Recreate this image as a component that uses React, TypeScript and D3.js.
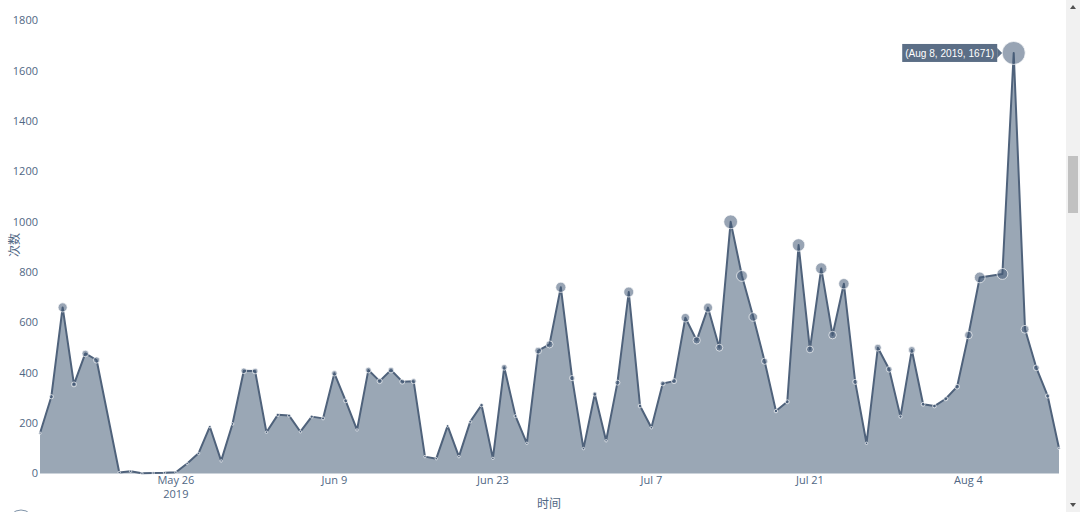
import React from "react";
import * as d3 from "d3";

const dates: string[] = [
  "2019-05-14","2019-05-15","2019-05-16","2019-05-17","2019-05-18","2019-05-19",
  "2019-05-21","2019-05-22","2019-05-23","2019-05-24","2019-05-25","2019-05-26",
  "2019-05-27","2019-05-28","2019-05-29","2019-05-30","2019-05-31",
  "2019-06-01","2019-06-02","2019-06-03","2019-06-04","2019-06-05","2019-06-06","2019-06-07",
  "2019-06-08","2019-06-09","2019-06-10","2019-06-11","2019-06-12","2019-06-13","2019-06-14",
  "2019-06-15","2019-06-16","2019-06-17","2019-06-18","2019-06-19","2019-06-20","2019-06-21",
  "2019-06-22","2019-06-23","2019-06-24","2019-06-25","2019-06-26","2019-06-27","2019-06-28",
  "2019-06-29","2019-06-30",
  "2019-07-01","2019-07-02","2019-07-03","2019-07-04","2019-07-05","2019-07-06","2019-07-07",
  "2019-07-08","2019-07-09","2019-07-10","2019-07-11","2019-07-12","2019-07-13","2019-07-14",
  "2019-07-15","2019-07-16","2019-07-17","2019-07-18","2019-07-19","2019-07-20","2019-07-21",
  "2019-07-22","2019-07-23","2019-07-24","2019-07-25","2019-07-26","2019-07-27","2019-07-28",
  "2019-07-29","2019-07-30","2019-07-31",
  "2019-08-01","2019-08-02","2019-08-03","2019-08-04","2019-08-05","2019-08-07","2019-08-08",
  "2019-08-09","2019-08-10","2019-08-11","2019-08-12",
];

const counts: number[] = [
  160, 305, 660, 354, 477, 451,
  4, 9, 1, 2, 3, 5,
  40, 80, 186, 50, 197,
  408, 407, 164, 233, 230, 166, 226,
  219, 398, 289, 173, 411, 367, 411,
  365, 367, 67, 59, 189, 67, 206,
  272, 60, 422, 228, 120, 488, 513,
  740, 379,
  99, 316, 130, 361, 721, 268, 182,
  358, 367, 619, 529, 659, 500, 1000,
  785, 622, 446, 248, 285, 908, 493,
  815, 550, 754, 364, 120, 500, 414,
  226, 491, 275,
  268, 297, 345, 550, 779, 793, 1671,
  573, 420, 308, 100,
];

const yTicks: number[] = [0, 200, 400, 600, 800, 1000, 1200, 1400, 1600, 1800];
const xTickDates: string[] = ["2019-05-26", "2019-06-09", "2019-06-23", "2019-07-07", "2019-07-21", "2019-08-04"];
const xTickLabels: string[] = ["May 26", "Jun 9", "Jun 23", "Jul 7", "Jul 21", "Aug 4"];
const highlightDate = "2019-08-08";
const tooltipText = "(Aug 8, 2019, 1671)";

const W = 1080;
const H = 512;
const FONT = "'Open Sans', 'Noto Sans CJK SC', sans-serif";
const TIP_FONT = "'Liberation Sans', Arial, sans-serif";
const TICK_COLOR = "#506784";

export default function App() {
  const parse = d3.utcParse("%Y-%m-%d");
  const data = dates.map((d, i) => ({ date: parse(d) as Date, value: counts[i], key: d }));

  const x = d3
    .scaleUtc()
    .domain([parse("2019-05-14") as Date, parse("2019-08-12") as Date])
    .range([40, 1059]);
  const y = d3.scaleLinear().domain([0, 1800]).range([473.5, 20.5]);
  const r = d3.scaleLinear().domain([0, 1671]).range([0, 11.5]);

  const area = d3
    .area<{ date: Date; value: number }>()
    .x((d) => x(d.date))
    .y0(y(0))
    .y1((d) => y(d.value));
  const line = d3
    .line<{ date: Date; value: number }>()
    .x((d) => x(d.date))
    .y((d) => y(d.value));

  const hi = data.find((d) => d.key === highlightDate)!;
  const hx = x(hi.date);
  const hy = y(hi.value);
  const tipW = 95;
  const tipH = 18;
  const tipRight = hx - r(hi.value) - 5;

  return (
    <svg
      width={W}
      height={H}
      style={{ position: "absolute", left: 0, top: 0, background: "#fff" }}
      fontFamily={FONT}
    >
      <path d={area(data) || ""} fill="#9aa7b5" />
      <path d={line(data) || ""} fill="none" stroke="#4f627b" strokeWidth={2} strokeLinejoin="round" />
      {data.map((d, i) => (
        <circle
          key={i}
          cx={x(d.date)}
          cy={y(d.value)}
          r={Math.max(1.2, r(d.value))}
          fill="rgba(68,90,118,0.55)"
          stroke="rgba(255,255,255,0.85)"
          strokeWidth={0.8}
        />
      ))}

      {yTicks.map((t) => (
        <text
          key={t}
          x={38}
          y={y(t)}
          dy="0.35em"
          textAnchor="end"
          fontSize={11}
          fill={TICK_COLOR}
        >
          {t}
        </text>
      ))}

      {xTickDates.map((d, i) => {
        const px = x(parse(d) as Date);
        return (
          <g key={d}>
            <text x={px} y={484} textAnchor="middle" fontSize={11} fill={TICK_COLOR}>
              {xTickLabels[i]}
            </text>
            {i === 0 && (
              <text x={px} y={498} textAnchor="middle" fontSize={11} fill={TICK_COLOR}>
                2019
              </text>
            )}
          </g>
        );
      })}

      <text x={549} y={508} textAnchor="middle" fontSize={12} fill={TICK_COLOR}>
        时间
      </text>
      <text
        transform="translate(19,245) rotate(-90)"
        textAnchor="middle"
        fontSize={12}
        fill={TICK_COLOR}
      >
        次数
      </text>

      {/* hover label */}
      <g>
        <rect x={tipRight - tipW} y={hy - tipH / 2} width={tipW} height={tipH} fill="#5b6e86" />
        <path
          d={`M${tipRight},${hy - 5} L${tipRight + 5},${hy} L${tipRight},${hy + 5} Z`}
          fill="#5b6e86"
        />
        <text
          x={tipRight - tipW + 3}
          y={hy}
          dy="0.35em"
          fontSize={11.5}
          fontFamily={TIP_FONT}
          textLength={tipW - 6}
          lengthAdjust="spacingAndGlyphs"
          fill="#fff"
        >
          {tooltipText}
        </text>
      </g>

      {/* partial icon bottom left */}
      <circle cx={21} cy={523} r={13} fill="none" stroke="#7f93a8" strokeWidth={1} />

      {/* scrollbar */}
      <rect x={1066} y={0} width={14} height={H} fill="#f1f1f1" />
      <rect x={1068} y={156} width={10} height={57} fill="#c1c1c1" />
      <path d="M1070,9 L1076,9 L1073,5 Z" fill="#505050" />
      <path d="M1070,503 L1076,503 L1073,507 Z" fill="#505050" />
    </svg>
  );
}
